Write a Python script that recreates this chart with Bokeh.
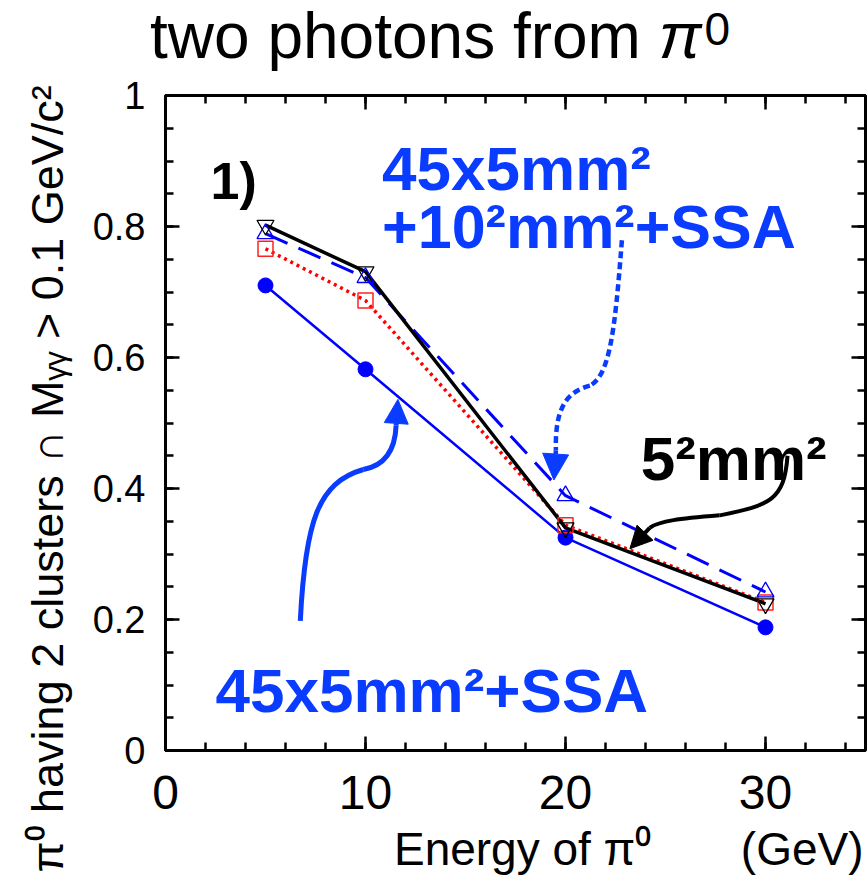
from bokeh.plotting import figure
from bokeh.layouts import column
from bokeh.models import (Range1d, LinearAxis, SingleIntervalTicker, CustomJSTickFormatter,
                          Label, Arrow, NormalHead, Title, Div)
from bokeh.embed import file_html
from bokeh.resources import INLINE

# ---------------- data ----------------
energy = [5, 10, 20, 30]
frac_45x5_ssa = [0.710, 0.582, 0.325, 0.188]          # blue solid, filled circles
frac_45x5_10_ssa = [0.789, 0.722, 0.389, 0.242]       # blue dashed, open triangles
frac_red = [0.766, 0.687, 0.344, 0.226]               # red dotted, open squares
frac_5x5 = [0.802, 0.731, 0.340, 0.224]               # black solid, inverted triangles

# annotation arrows (data units): bezier segments x0,y0,cx0,cy0,cx1,cy1,x1,y1
arrow_ssa = [(6.74, 0.198, 6.99, 0.351, 7.64, 0.409, 9.89, 0.429),
             (9.89, 0.429, 10.98, 0.435, 11.48, 0.458, 11.53, 0.496)]
arrow_ssa_head = (11.53, 0.496, 11.62, 0.536)
arrow_10 = [(22.82, 0.779, 22.47, 0.641, 22.22, 0.573, 21.22, 0.557),
            (21.22, 0.557, 19.97, 0.547, 19.47, 0.519, 19.52, 0.458)]
arrow_10_head = (19.52, 0.458, 19.42, 0.413)
arrow_5 = [(31.10, 0.450, 30.95, 0.382, 30.20, 0.374, 27.71, 0.359),
           (27.71, 0.359, 25.71, 0.354, 24.71, 0.351, 24.21, 0.340)]
arrow_5_head = (24.21, 0.340, 23.22, 0.308)

FONT = "Liberation Sans"
BLUE = "#0000ff"
TBLUE = "#0a3cff"

title_div = Div(
    text=('<div style="font-family: \'Liberation Sans\', sans-serif; font-size: 64px; '
          'line-height: 64px; color: black; padding: 4px 0 0 150px; white-space: nowrap;">'
          'two photons from <i>π</i><span style="font-size: 0.72em; position: relative; '
          'top: -13px; margin-left: 3px;">0</span></div>'),
    width=867, height=72, margin=0)

p = figure(width=867, height=812, output_backend="svg", toolbar_location=None,
           x_range=Range1d(0, 35), y_range=Range1d(0, 1),
           min_border_left=165, min_border_right=2, min_border_top=23, min_border_bottom=134)
p.background_fill_color = "white"
p.border_fill_color = "white"
p.outline_line_color = "black"
p.outline_line_width = 3
p.grid.visible = False

xt = SingleIntervalTicker(interval=10, num_minor_ticks=5)
yt = SingleIntervalTicker(interval=0.2, num_minor_ticks=4)
yfmt = CustomJSTickFormatter(code="return (Math.round(tick*10)/10).toString();")
blank = CustomJSTickFormatter(code="return '';")

def style_axis(ax):
    ax.axis_line_color = None
    ax.major_tick_in = 14
    ax.major_tick_out = 0
    ax.minor_tick_in = 8
    ax.minor_tick_out = 0
    ax.major_tick_line_width = 2.5
    ax.minor_tick_line_width = 2.5
    ax.major_tick_line_color = "black"
    ax.minor_tick_line_color = "black"
    ax.major_label_text_font = FONT
    ax.major_label_text_color = "black"

xa = p.xaxis[0]
xa.ticker = xt
style_axis(xa)
xa.major_label_text_font_size = "48px"
xa.major_label_standoff = 25

ya = p.yaxis[0]
ya.ticker = yt
ya.formatter = yfmt
style_axis(ya)
ya.major_label_text_font_size = "38px"
ya.major_label_standoff = 20

top = LinearAxis(ticker=xt, formatter=blank, major_label_standoff=0,
                 major_label_text_font_size="1px")
style_axis(top)
p.add_layout(top, "above")
right = LinearAxis(ticker=yt, formatter=blank, major_label_standoff=0,
                   major_label_text_font_size="1px")
style_axis(right)
p.add_layout(right, "right")

# axis titles
xtitle = Title(text="Energy of π⁰\u00a0\u00a0\u00a0\u00a0\u00a0\u00a0 (GeV)", align="right",
               text_font=FONT, text_font_size="46px", text_font_style="normal",
               text_color="black", standoff=18, offset=2)
p.add_layout(xtitle, "below")
ytitle = Title(text="π⁰ having 2 clusters ∩ Mᵧᵧ > 0.1 GeV/c²", align="left",
               text_font=FONT, text_font_size="45px", text_font_style="normal",
               text_color="black", standoff=34, offset=-122)
p.add_layout(ytitle, "left")

# ---------------- series ----------------
p.line(energy, frac_45x5_ssa, line_color=BLUE, line_width=2.5)
p.line(energy, frac_red, line_color="#ff0000", line_width=3.5, line_dash="3 4")
p.line(energy, frac_45x5_10_ssa, line_color=BLUE, line_width=3, line_dash="24 12")
p.line(energy, frac_5x5, line_color="black", line_width=3.5)

p.scatter(energy, frac_45x5_ssa, marker="circle", size=15, fill_color=BLUE, line_color=BLUE)
p.scatter(energy, frac_red, marker="square", size=15, fill_color=None, line_color="#ff2020", line_width=1.5)
p.scatter(energy, frac_45x5_10_ssa, marker="triangle", size=17, fill_color=None, line_color=BLUE, line_width=1.3)
p.scatter(energy, frac_5x5, marker="inverted_triangle", size=17, fill_color=None, line_color="black", line_width=1.3)

# ---------------- annotation arrows ----------------
def draw_arrow(segs, head, color, width, dash, head_size):
    p.bezier(x0=[s[0] for s in segs], y0=[s[1] for s in segs],
             cx0=[s[2] for s in segs], cy0=[s[3] for s in segs],
             cx1=[s[4] for s in segs], cy1=[s[5] for s in segs],
             x1=[s[6] for s in segs], y1=[s[7] for s in segs],
             line_color=color, line_width=width, line_dash=dash)
    p.add_layout(Arrow(end=NormalHead(size=head_size, fill_color=color, line_color=color),
                       x_start=head[0], y_start=head[1], x_end=head[2], y_end=head[3],
                       line_color=color, line_width=width, line_dash=dash))

draw_arrow(arrow_ssa, arrow_ssa_head, TBLUE, 5, "solid", 24)
draw_arrow(arrow_10, arrow_10_head, TBLUE, 4.5, "7 4", 26)
draw_arrow(arrow_5, arrow_5_head, "black", 4, "solid", 22)

# ---------------- text labels ----------------
def lab(x, y, t, color, size):
    p.add_layout(Label(x=x, y=y, text=t, text_color=color, text_font=FONT,
                       text_font_size=size, text_font_style="bold",
                       text_align="left", text_baseline="alphabetic"))

lab(2.25, 0.870, "1)", "black", "52px")
lab(10.83, 0.889, "45x5mm²", TBLUE, "62px")
lab(10.83, 0.800, "+10²mm²+SSA", TBLUE, "61px")
lab(23.76, 0.446, "5²mm²", "black", "62px")
lab(2.50, 0.092, "45x5mm²+SSA", TBLUE, "62px")

layout = column(title_div, p, spacing=0)
open("out.html", "w").write(file_html(layout, INLINE))
